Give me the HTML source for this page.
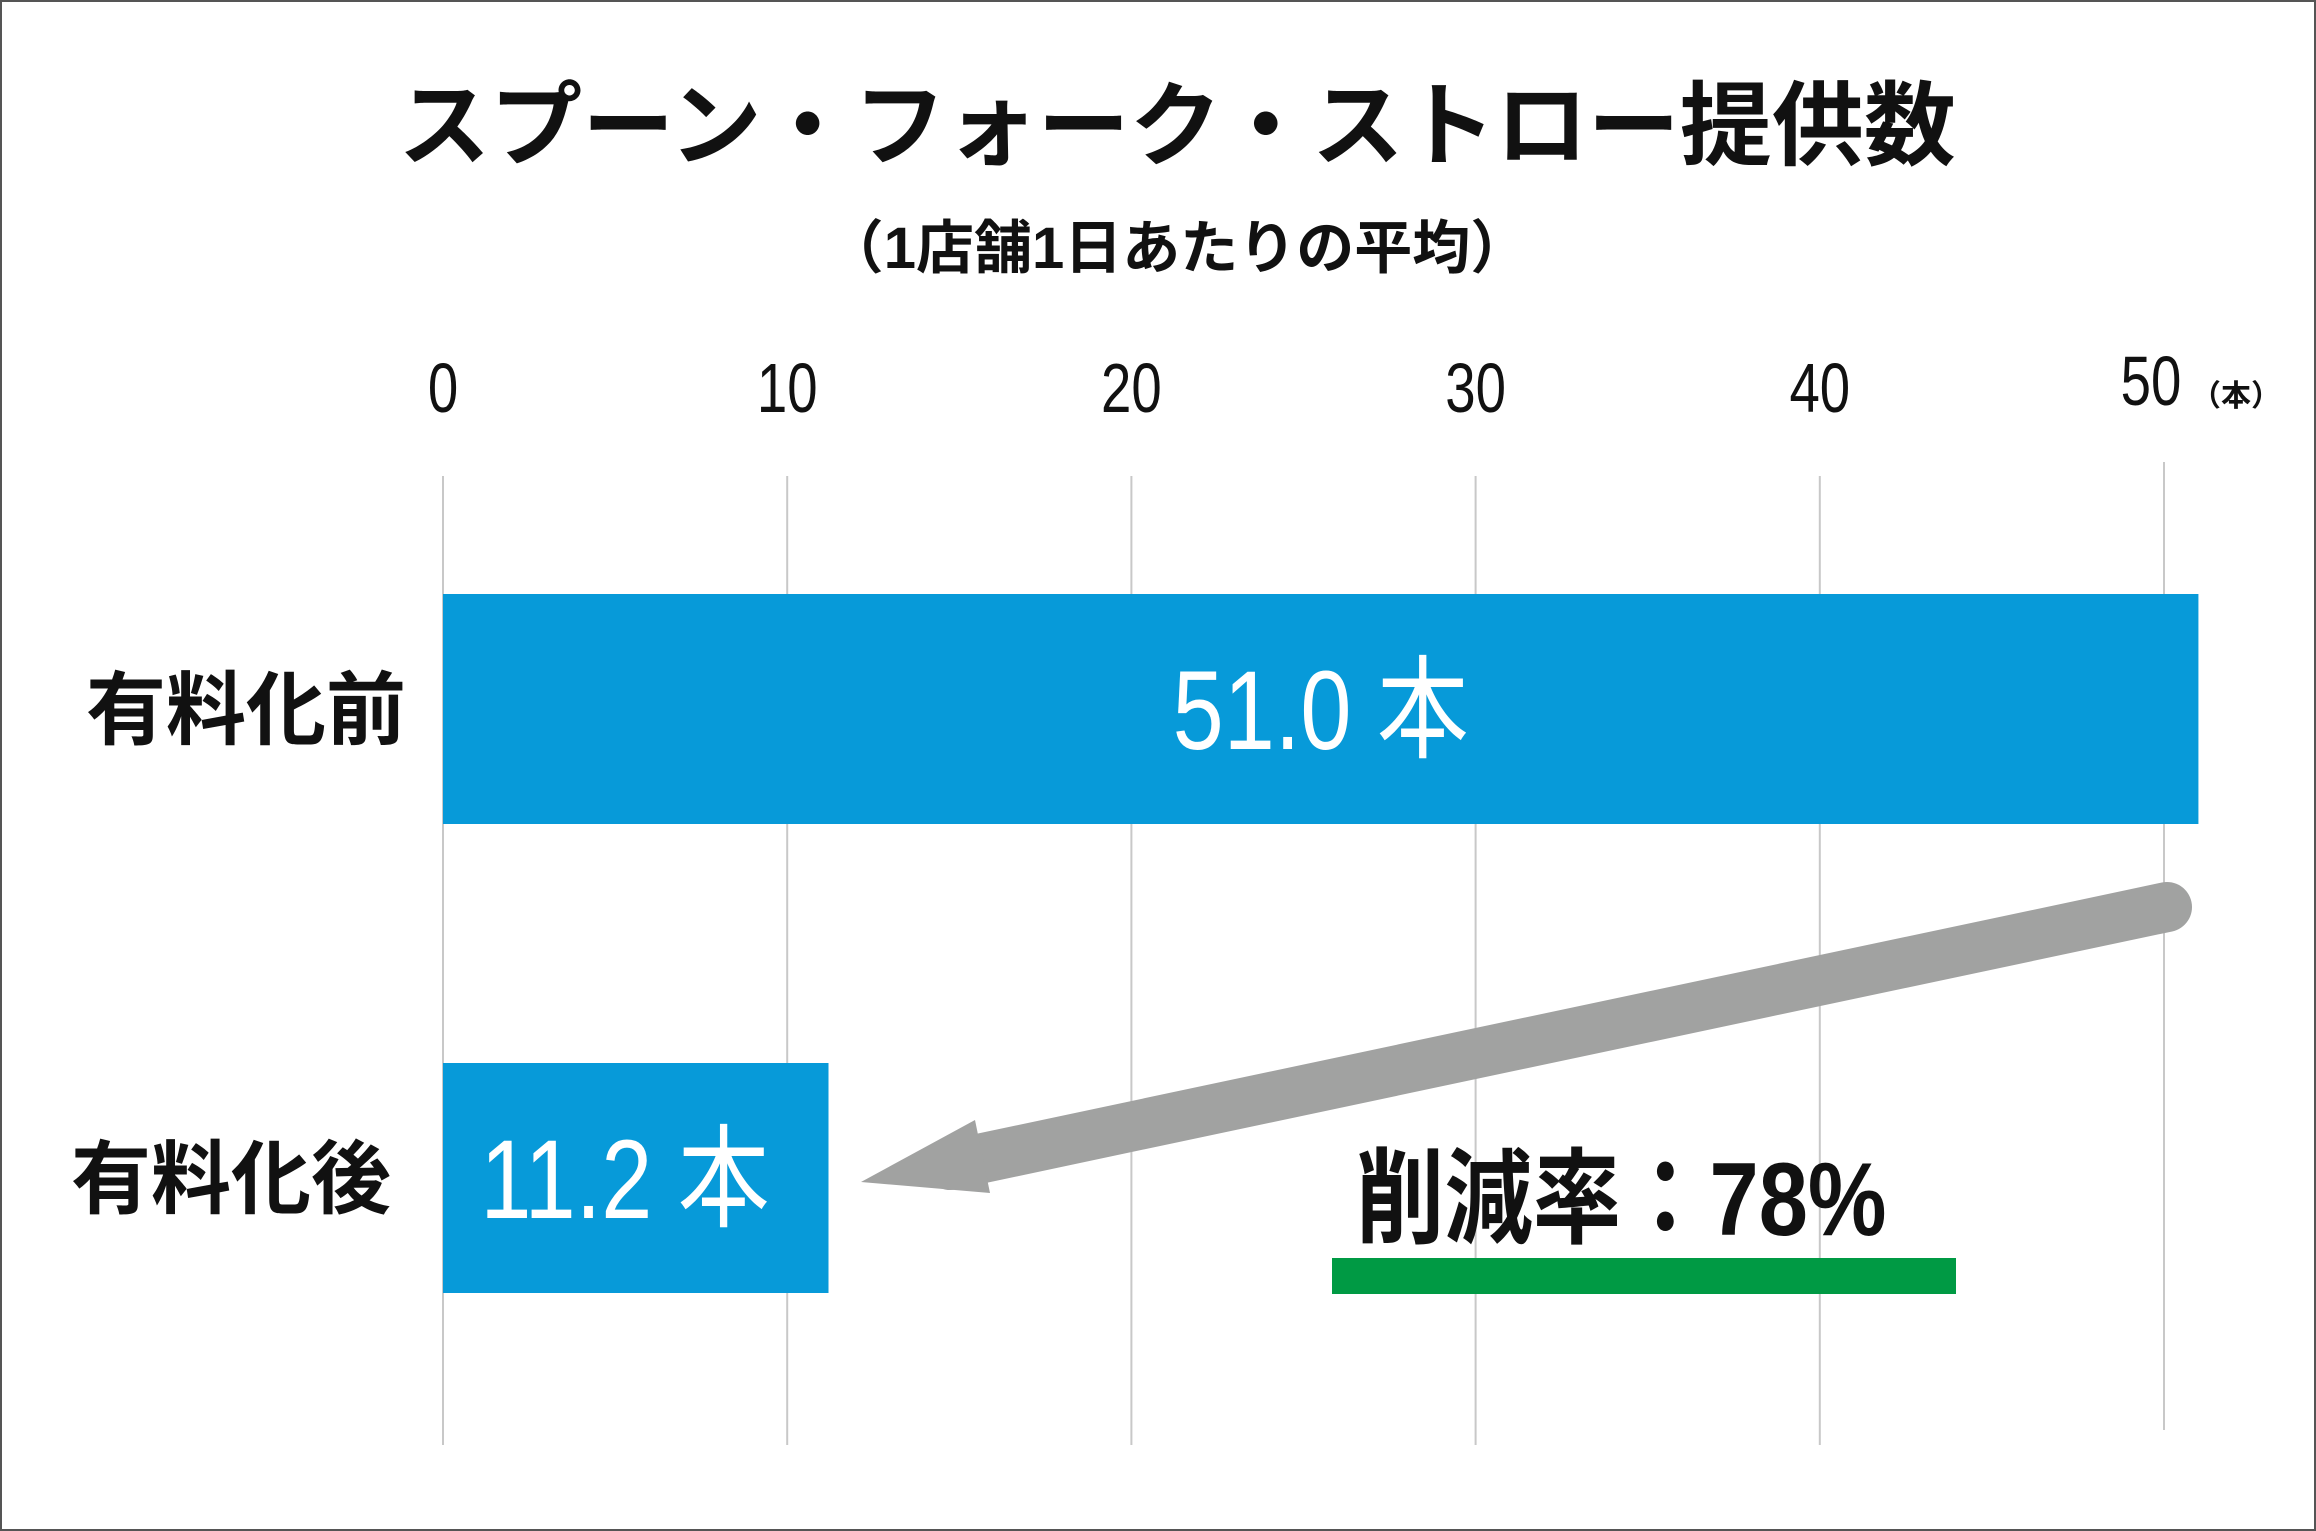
<!DOCTYPE html>
<html><head><meta charset="utf-8"><style>
html,body{margin:0;padding:0;background:#fff}
svg{display:block}
text{font-family:"Liberation Sans","Noto Sans CJK JP",sans-serif}
</style></head><body>
<svg id="chart" width="2316" height="1531" viewBox="0 0 2316 1531" xmlns="http://www.w3.org/2000/svg">
<rect x="1" y="1" width="2314" height="1529" fill="#fff" stroke="#555" stroke-width="2"/>
<text x="1177" y="158" font-size="92" font-weight="bold" text-anchor="middle" fill="#111">スプーン・フォーク・ストロー提供数</text>
<text x="1177" y="268" font-size="58" font-weight="bold" text-anchor="middle" fill="#111">（1店舗1日あたりの平均）</text>
<g id="grid"></g>
<g id="ticks"></g>
<text x="2236" y="406" font-size="30" font-weight="bold" text-anchor="middle" fill="#111">（本）</text>
<g id="bars"></g>
<g>
<line x1="2167" y1="907" x2="950" y2="1165" stroke="#a1a2a1" stroke-width="50" stroke-linecap="round"/>
<polygon points="861,1182 975,1120 990,1193" fill="#a1a2a1"/>
</g>
<g transform="translate(1356,1235) scale(0.85,1)">
<text x="0" y="0" font-size="104" font-weight="bold" fill="#111">削減率：78%</text>
</g>
<rect x="1332" y="1258" width="624" height="36" fill="#009a44"/>
</svg>
<script>
const ticks = [0, 10, 20, 30, 40, 50];
const categories = ["有料化前", "有料化後"];
const values = [51.0, 11.2];
const valueLabels = ["51.0 本", "11.2 本"];

const NS = "http://www.w3.org/2000/svg";
const x0 = 443, pxPerUnit = 34.42;
function xs(v){ return x0 + v * pxPerUnit; }
const rowTop = [594, 1063], barH = 230;
function mk(tag, attrs, parent){ const e=document.createElementNS(NS,tag); for(const k in attrs) e.setAttribute(k,attrs[k]); parent.appendChild(e); return e; }

const grid=document.getElementById('grid'), tk=document.getElementById('ticks'), bars=document.getElementById('bars');
ticks.forEach((t,i)=>{
  const l=mk('line',{x1:xs(t),x2:xs(t),y1:i===ticks.length-1?462:476,y2:i===ticks.length-1?1430:1445,stroke:'#c8c8c8','stroke-width':2},grid);
  
  
  const g=mk('g',{transform:`translate(${xs(t)+(i===ticks.length-1?-13:0)},${i===ticks.length-1?405:412}) scale(0.78,1)`},tk);
  
  
  const tx=mk('text',{x:0,y:0,'font-size':70,'text-anchor':'middle',fill:'#111'},g);
  tx.textContent=t;
});
categories.forEach((c,i)=>{
  const r=mk('rect',{x:x0,y:rowTop[i],width:xs(values[i])-x0,height:barH,fill:'#079ad9'},bars);
  
  
  const cl=mk('text',{x:i===0?406:391,y:rowTop[i]+barH/2+29,'font-size':80,'font-weight':'bold','text-anchor':'end',fill:'#111'},bars);
  
  
  cl.textContent=c;
  const cx = i===0 ? (x0+xs(values[i]))/2 + 0 : 625;
  const g=mk('g',{transform:`translate(${cx},${rowTop[i]+barH/2+40}) scale(0.82,1)`},bars);
  
  
  const vt=mk('text',{x:0,y:0,'font-size':112,'text-anchor':'middle',fill:'#fff'},g);
  vt.textContent=valueLabels[i];
});
</script>
</body></html>
